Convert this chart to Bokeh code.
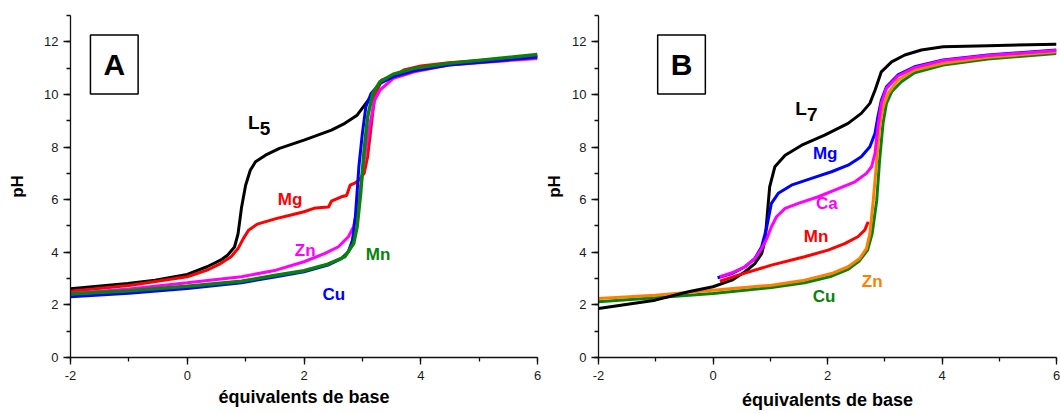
from bokeh.plotting import figure
from bokeh.layouts import row
from bokeh.models import Range1d, SingleIntervalTicker, Label, PrintfTickFormatter
from bokeh.embed import file_html
from bokeh.resources import INLINE

# ---------------- Panel A data (L5) ----------------
a_l5_x = [-2.0, -1.02, -0.55, 0.0, 0.34, 0.57, 0.69, 0.81, 0.87, 0.93, 1.0, 1.08, 1.17, 1.34, 1.58, 2.0, 2.47, 2.7, 2.91, 3.06, 3.19, 3.33, 3.53, 3.89, 4.48, 6.0]
a_l5_y = [2.61, 2.81, 2.94, 3.16, 3.45, 3.70, 3.89, 4.20, 4.70, 5.70, 6.55, 7.12, 7.44, 7.69, 7.95, 8.26, 8.64, 8.90, 9.21, 9.66, 10.04, 10.52, 10.72, 10.95, 11.18, 11.46]

a_mg_x = [-2.0, -1.0, 0.0, 0.34, 0.57, 0.75, 0.87, 0.96, 1.05, 1.2, 1.52, 1.76, 2.0, 2.17, 2.3, 2.42, 2.47, 2.64, 2.73, 2.79, 2.88, 2.94, 3.03, 3.09, 3.15, 3.21, 3.33, 3.45, 3.53, 3.62, 3.71, 4.0, 4.48, 6.0]
a_mg_y = [2.52, 2.74, 3.07, 3.32, 3.57, 3.83, 4.14, 4.52, 4.84, 5.07, 5.28, 5.41, 5.54, 5.67, 5.70, 5.72, 5.94, 6.11, 6.16, 6.55, 6.64, 6.74, 7.00, 7.63, 8.77, 9.91, 10.55, 10.62, 10.74, 10.80, 10.93, 11.08, 11.20, 11.46]

a_zn_x = [-2.0, -1.0, 0.0, 0.93, 1.52, 2.0, 2.35, 2.59, 2.76, 2.85, 2.94, 3.03, 3.12, 3.21, 3.3, 3.53, 3.89, 4.48, 6.0]
a_zn_y = [2.43, 2.60, 2.84, 3.07, 3.32, 3.64, 3.95, 4.21, 4.59, 4.97, 5.98, 7.50, 8.77, 9.78, 10.16, 10.61, 10.86, 11.12, 11.37]

a_cu_x = [-2.0, -1.0, 0.0, 0.93, 1.52, 2.0, 2.41, 2.64, 2.76, 2.83, 2.88, 2.94, 3.0, 3.06, 3.15, 3.3, 3.53, 3.89, 4.48, 6.0]
a_cu_y = [2.31, 2.44, 2.62, 2.84, 3.07, 3.26, 3.51, 3.76, 4.02, 4.46, 5.35, 7.25, 8.52, 9.53, 10.04, 10.42, 10.67, 10.90, 11.12, 11.41]

a_mn_x = [-2.0, -1.0, 0.0, 0.93, 1.52, 2.0, 2.41, 2.7, 2.85, 2.91, 2.97, 3.03, 3.09, 3.18, 3.3, 3.53, 3.89, 4.48, 6.0]
a_mn_y = [2.41, 2.54, 2.71, 2.90, 3.13, 3.30, 3.55, 3.83, 4.33, 4.97, 6.24, 7.88, 9.15, 10.04, 10.48, 10.77, 10.99, 11.18, 11.52]

# ---------------- Panel B data (L7) ----------------
b_l7_x = [-2.0, -1.01, -0.43, 0.0, 0.33, 0.56, 0.73, 0.85, 0.91, 0.95, 0.99, 1.08, 1.26, 1.55, 1.95, 2.36, 2.59, 2.74, 2.83, 2.94, 3.12, 3.35, 3.64, 4.02, 4.8, 6.0]
b_l7_y = [1.86, 2.18, 2.50, 2.69, 2.94, 3.26, 3.57, 3.95, 4.46, 5.48, 6.49, 7.25, 7.69, 8.07, 8.45, 8.90, 9.28, 9.66, 10.16, 10.86, 11.24, 11.50, 11.69, 11.81, 11.85, 11.91]

b_mg_x = [0.08, 0.33, 0.56, 0.73, 0.85, 0.94, 1.02, 1.14, 1.37, 1.72, 2.07, 2.36, 2.59, 2.74, 2.83, 2.88, 2.94, 3.03, 3.23, 3.52, 4.02, 4.8, 6.0]
b_mg_y = [3.03, 3.19, 3.45, 3.76, 4.21, 4.97, 5.86, 6.24, 6.55, 6.81, 7.06, 7.31, 7.63, 8.01, 8.52, 9.15, 9.78, 10.29, 10.74, 11.05, 11.31, 11.50, 11.69]

b_ca_x = [0.12, 0.33, 0.56, 0.73, 0.85, 0.94, 1.02, 1.11, 1.26, 1.49, 1.84, 2.19, 2.48, 2.68, 2.77, 2.83, 2.88, 2.94, 3.03, 3.23, 3.52, 4.02, 4.8, 6.0]
b_ca_y = [3.07, 3.22, 3.45, 3.76, 4.14, 4.52, 4.97, 5.35, 5.67, 5.86, 6.11, 6.42, 6.68, 7.00, 7.25, 7.76, 8.77, 9.66, 10.23, 10.70, 11.02, 11.29, 11.48, 11.67]

b_mn_x = [0.12, 0.44, 1.02, 1.6, 2.01, 2.3, 2.53, 2.65, 2.71]
b_mn_y = [2.90, 3.13, 3.51, 3.83, 4.08, 4.33, 4.59, 4.84, 5.16]

b_cu_x = [-2.0, -1.01, 0.0, 1.02, 1.6, 2.07, 2.36, 2.56, 2.7, 2.78, 2.86, 2.91, 2.97, 3.03, 3.12, 3.29, 3.52, 4.02, 4.8, 6.0]
b_cu_y = [2.12, 2.27, 2.43, 2.66, 2.84, 3.09, 3.35, 3.68, 4.08, 4.71, 5.98, 7.50, 8.90, 9.66, 10.10, 10.48, 10.82, 11.12, 11.35, 11.56]

b_zn_x = [-2.0, -1.01, 0.0, 1.02, 1.6, 2.07, 2.36, 2.56, 2.68, 2.74, 2.8, 2.86, 2.91, 2.97, 3.06, 3.23, 3.52, 4.02, 4.8, 6.0]
b_zn_y = [2.24, 2.37, 2.56, 2.75, 2.94, 3.19, 3.45, 3.76, 4.14, 4.71, 5.98, 7.50, 8.77, 9.53, 10.04, 10.54, 10.93, 11.18, 11.41, 11.62]

x_label = "équivalents de base"
y_label = "pH"

FONT = "Liberation Sans"
BLACK = "#000000"
RED = "#ff0000"
MAGENTA = "#ff00ff"
BLUE = "#0000ff"
GREEN = "#0a820a"
ORANGE = "#ff8000"


def make_fig(width, left, right, xlabel_standoff, ylabel_standoff):
    p = figure(width=width, height=414, output_backend="svg", toolbar_location=None,
               x_range=Range1d(-2, 6), y_range=Range1d(0, 13),
               min_border_left=left, min_border_right=right, min_border_top=15, min_border_bottom=57)
    p.outline_line_color = None
    p.xgrid.visible = False
    p.ygrid.visible = False
    p.background_fill_color = "white"
    p.border_fill_color = "white"
    p.xaxis.ticker = SingleIntervalTicker(interval=2, num_minor_ticks=2)
    p.yaxis.ticker = SingleIntervalTicker(interval=2, num_minor_ticks=2)
    for ax in (p.xaxis[0], p.yaxis[0]):
        ax.formatter = PrintfTickFormatter(format="%d")
        ax.axis_line_color = "#111111"
        ax.axis_line_width = 1.3
        ax.major_tick_line_color = "#111111"
        ax.minor_tick_line_color = "#111111"
        ax.major_tick_line_width = 1.3
        ax.minor_tick_line_width = 1.3
        ax.major_tick_out = 7
        ax.major_tick_in = 0
        ax.minor_tick_out = 4
        ax.minor_tick_in = 0
        ax.major_label_text_font = FONT
        ax.major_label_text_font_size = "13px"
        ax.major_label_text_color = "#1a1a1a"
        ax.axis_label_text_font = FONT
        ax.axis_label_text_font_style = "bold"
        ax.axis_label_text_color = "#000000"
    p.xaxis.major_label_standoff = 6
    p.yaxis.major_label_standoff = 5
    p.xaxis.axis_label = x_label
    p.xaxis.axis_label_text_font_size = "18px"
    p.xaxis.axis_label_standoff = xlabel_standoff
    p.yaxis.axis_label = y_label
    p.yaxis.axis_label_text_font_size = "17px"
    p.yaxis.axis_label_standoff = ylabel_standoff
    return p


def add_label(p, x, y, text, color, size="17px"):
    p.add_layout(Label(x=x, y=y, text=text, text_color=color, text_font=FONT,
                       text_font_style="bold", text_font_size=size,
                       text_align="center", text_baseline="middle"))


def add_panel_box(p, x, y, text):
    p.add_layout(Label(x=x, y=y, text=text, text_color="black", text_font=FONT,
                       text_font_style="bold", text_font_size="30px",
                       text_align="center", text_baseline="middle",
                       border_line_color="black", border_line_width=1.5,
                       background_fill_color="white", padding=13))


def add_sub_label(p, x, y, main, sub):
    p.add_layout(Label(x=x, y=y, text=main, text_color="black", text_font=FONT,
                       text_font_style="bold", text_font_size="19px",
                       text_align="right", text_baseline="middle"))
    p.add_layout(Label(x=x, y=y, text=sub, text_color="black", text_font=FONT,
                       text_font_style="bold", text_font_size="19px",
                       text_align="left", text_baseline="middle",
                       x_offset=0, y_offset=-6))


# ---------------- Panel A ----------------
pa = make_fig(542, 70, 5, 4, 14)
pa.line(a_l5_x, a_l5_y, color=BLACK, line_width=3)
pa.line(a_mg_x, a_mg_y, color=RED, line_width=3)
pa.line(a_zn_x, a_zn_y, color=MAGENTA, line_width=3)
pa.line(a_cu_x, a_cu_y, color=BLUE, line_width=3)
pa.line(a_mn_x, a_mn_y, color=GREEN, line_width=3.5)

add_panel_box(pa, -1.25, 11.14, "A")
add_sub_label(pa, 1.24, 8.95, "L", "5")
add_label(pa, 1.76, 6.0, "Mg", RED)
add_label(pa, 2.02, 4.05, "Zn", MAGENTA)
add_label(pa, 3.27, 3.9, "Mn", GREEN)
add_label(pa, 2.51, 2.4, "Cu", BLUE)

# ---------------- Panel B ----------------
pb = make_fig(518, 49, 4, 7, 5)
pb.line(b_cu_x, b_cu_y, color=GREEN, line_width=3)
pb.line(b_zn_x, b_zn_y, color=ORANGE, line_width=3)
pb.line(b_l7_x, b_l7_y, color=BLACK, line_width=3)
pb.line(b_mn_x, b_mn_y, color=RED, line_width=3)
pb.line(b_mg_x, b_mg_y, color=BLUE, line_width=3)
pb.line(b_ca_x, b_ca_y, color=MAGENTA, line_width=3)

add_panel_box(pb, -0.55, 11.14, "B")
add_sub_label(pb, 1.64, 9.45, "L", "7")
add_label(pb, 1.96, 7.76, "Mg", BLUE)
add_label(pb, 1.99, 5.86, "Ca", MAGENTA)
add_label(pb, 1.8, 4.6, "Mn", RED)
add_label(pb, 2.78, 2.88, "Zn", ORANGE)
add_label(pb, 1.94, 2.32, "Cu", GREEN)

layout = row(pa, pb)
open("out.html", "w").write(file_html(layout, INLINE))
